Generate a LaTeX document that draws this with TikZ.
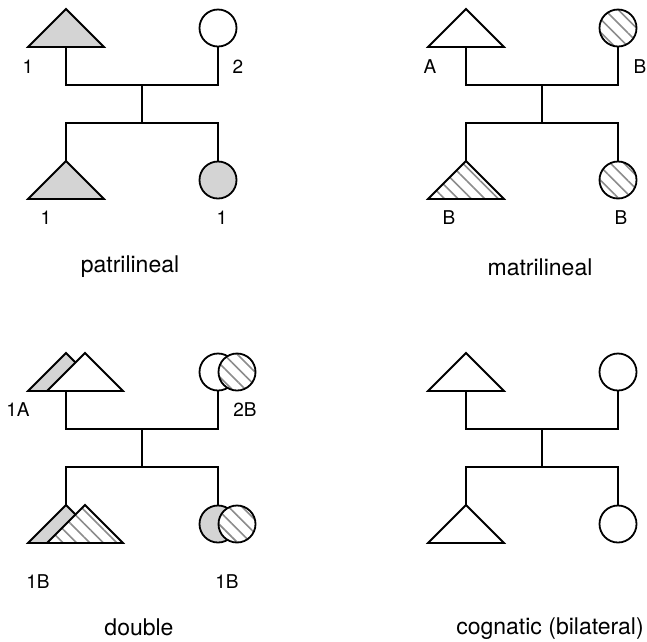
\documentclass[tikz,border=0pt]{standalone}
\usepackage{fontspec}
\setmainfont{TeX Gyre Heros}
\usetikzlibrary{patterns.meta}

\definecolor{kingray}{gray}{0.83}
\definecolor{hatchgray}{gray}{0.55}

\tikzset{
  kinline/.style={line width=1.8pt},
  lineage/.style={fill=kingray},
  blank/.style={fill=white},
  hatched/.style={preaction={fill=white},
    pattern={Lines[angle=-45,distance=9.5pt,line width=1.6pt]},
    pattern color=hatchgray},
  person/.style={circle, draw, kinline, minimum size=37pt, inner sep=0pt},
  lbl/.style={font=\fontsize{19}{19}\selectfont, inner sep=0pt},
  caption/.style={font=\fontsize{23}{23}\selectfont, inner sep=0pt}
}

\begin{document}
\begin{tikzpicture}[x=1pt,y=-1pt]
  \useasboundingbox (0,0) rectangle (647,641);

  % patrilineal
  \begin{scope}
    \draw[kinline, lineage] (66,9) -- (28,47) -- (104,47) -- cycle;
    \coordinate (p-fa) at (66,47);
    \node[person, blank] (p-mo) at (218,28) {};
    \draw[kinline, lineage] (66,161) -- (28,199) -- (104,199) -- cycle;
    \coordinate (p-so) at (66,161);
    \node[person, lineage] (p-da) at (218,180) {};
    \coordinate (p-marr) at (142,85);
    \coordinate (p-sib) at (142,123);
    \node[lbl] (p-l1) at (28,67) {1};
    \node[lbl] (p-l2) at (238,67) {2};
    \node[lbl] (p-l3) at (46,218) {1};
    \node[lbl] (p-l4) at (222,218) {1};
    \node[caption] (p-cap) at (130,267) {patrilineal};
  \end{scope}

  % matrilineal
  \begin{scope}[shift={(400,0)}]
    \draw[kinline, blank] (66,9) -- (28,47) -- (104,47) -- cycle;
    \coordinate (m-fa) at (66,47);
    \node[person, hatched] (m-mo) at (218,28) {};
    \draw[kinline, hatched] (66,161) -- (28,199) -- (104,199) -- cycle;
    \coordinate (m-so) at (66,161);
    \node[person, hatched] (m-da) at (218,180) {};
    \coordinate (m-marr) at (142,85);
    \coordinate (m-sib) at (142,123);
    \node[lbl] (m-l1) at (30,67) {A};
    \node[lbl] (m-l2) at (240,67) {B};
    \node[lbl] (m-l3) at (49,218) {B};
    \node[lbl] (m-l4) at (221,218) {B};
    \node[caption] (m-cap) at (140,267) {matrilineal};
  \end{scope}

  % double: both lines shown side by side
  \begin{scope}[shift={(0,344)}]
    \draw[kinline, lineage] (66,9) -- (28,47) -- (104,47) -- cycle;
    \draw[kinline, blank] (85,9) -- (47,47) -- (123,47) -- cycle;
    \coordinate (d-fa) at (66,47);
    \node[person, blank] (d-mo) at (218,28) {};
    \node[person, hatched] (d-mo2) at (237,28) {};
    \draw[kinline, lineage] (66,161) -- (28,199) -- (104,199) -- cycle;
    \draw[kinline, hatched] (85,161) -- (47,199) -- (123,199) -- cycle;
    \coordinate (d-so) at (66,161);
    \node[person, lineage] (d-da) at (218,180) {};
    \node[person, hatched] (d-da2) at (237,180) {};
    \coordinate (d-marr) at (142,85);
    \coordinate (d-sib) at (142,123);
    \node[lbl] (d-l1) at (18,66) {1A};
    \node[lbl] (d-l2) at (245,66) {2B};
    \node[lbl] (d-l3) at (38,238) {1B};
    \node[lbl] (d-l4) at (227,238) {1B};
    \node[caption] (d-cap) at (139,283) {double};
  \end{scope}

  % cognatic (bilateral)
  \begin{scope}[shift={(400,344)}]
    \draw[kinline, blank] (66,9) -- (28,47) -- (104,47) -- cycle;
    \coordinate (c-fa) at (66,47);
    \node[person, blank] (c-mo) at (218,28) {};
    \draw[kinline, blank] (66,161) -- (28,199) -- (104,199) -- cycle;
    \coordinate (c-so) at (66,161);
    \node[person, blank] (c-da) at (218,180) {};
    \coordinate (c-marr) at (142,85);
    \coordinate (c-sib) at (142,123);
    \node[caption] (c-cap) at (150,285) {cognatic (bilateral)};
  \end{scope}

  % marriage and descent lines
  \foreach \k in {p,m,d,c} {
    \draw[kinline] (\k-fa) |- (\k-marr) -| (\k-mo.south);
    \draw[kinline] (\k-marr) -- (\k-sib);
    \draw[kinline] (\k-so) |- (\k-sib) -| (\k-da.north);
  }
\end{tikzpicture}
\end{document}
